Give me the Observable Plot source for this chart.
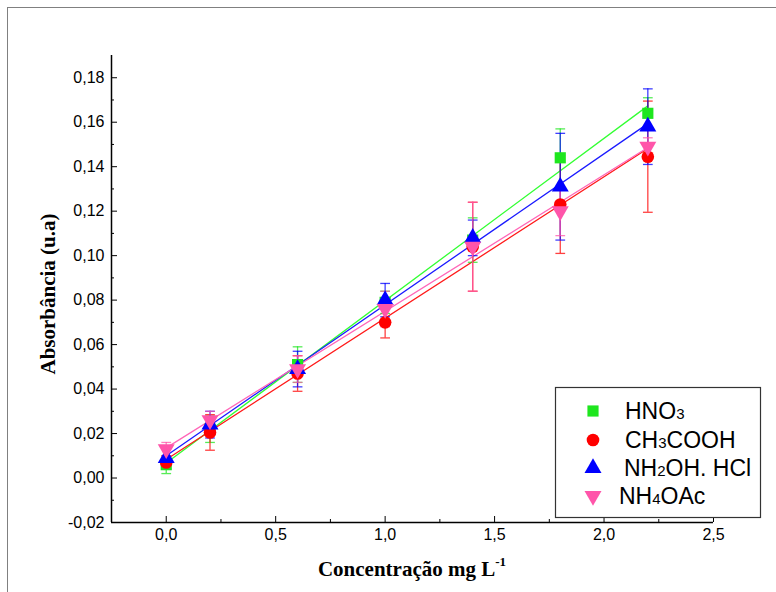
<!DOCTYPE html>
<html><head><meta charset="utf-8">
<script src="https://cdn.jsdelivr.net/npm/d3@7"></script>
<script src="https://cdn.jsdelivr.net/npm/@observablehq/plot@0.6"></script>
<style>
html,body{margin:0;padding:0;background:#fff;}
body{width:776px;height:592px;overflow:hidden;position:relative;font-family:"Liberation Sans",Arial,sans-serif;}
#frame{position:absolute;left:7px;top:7px;width:820px;height:700px;border:1px solid #808080;box-sizing:border-box;}
#chart{position:absolute;left:0;top:0;}
.title{position:absolute;font-family:"Liberation Serif","Times New Roman",serif;font-weight:bold;font-size:21px;color:#000;white-space:nowrap;}
#ytitle{left:48px;top:294px;transform:translate(-50%,-50%) rotate(-90deg);}
#xtitle{left:412px;top:569px;transform:translate(-50%,-50%);}
#xtitle sup{font-size:13px;vertical-align:top;position:relative;top:-3px;}
#legend{position:absolute;left:0;top:0;}
</style>
</head><body>
<div id="frame"></div>
<div id="chart"></div>
<div class="title" id="ytitle">Absorbância (u.a)</div>
<div class="title" id="xtitle">Concentração mg L<sup>-1</sup></div>
<svg id="legend" width="776" height="592"></svg>
<script>
// ---- data ----
const conc = [0, 0.2, 0.6, 1.0, 1.4, 1.8, 2.2];
const seriesNames = ["HNO3", "CH3COOH", "NH2OH. HCl", "NH4OAc"];
const hno3     = [0.006, 0.022, 0.051, 0.079, 0.107, 0.144, 0.164];
const hno3Err  = [0.004, 0.006, 0.008, 0.005, 0.010, 0.013, 0.007];
const ch3cooh    = [0.007, 0.0205, 0.047, 0.070, 0.104, 0.123, 0.1445];
const ch3coohErr = [0.003, 0.008, 0.008, 0.007, 0.020, 0.022, 0.025];
const nh2oh    = [0.009, 0.024, 0.049, 0.080, 0.108, 0.131, 0.158];
const nh2ohErr = [0.005, 0.006, 0.008, 0.0075, 0.008, 0.024, 0.017];
const nh4oac    = [0.013, 0.026, 0.049, 0.076, 0.104, 0.120, 0.149];
const nh4oacErr = [0.003, 0.004, 0.006, 0.008, 0.020, 0.011, 0.004];
const yTicks = [-0.02, 0, 0.02, 0.04, 0.06, 0.08, 0.10, 0.12, 0.14, 0.16, 0.18];
const xTicks = [0, 0.5, 1.0, 1.5, 2.0, 2.5];

const colors = {"HNO3": "#1ee61e", "CH3COOH": "#ff0000", "NH2OH. HCl": "#0000ff", "NH4OAc": "#ff55aa"};
const lineColors = {"HNO3": "#33ff33", "CH3COOH": "#ff1a1a", "NH2OH. HCl": "#1a1aff", "NH4OAc": "#ff66b8"};

const downTriangle = {
  draw(context, size) {
    const y = -Math.sqrt(size / (Math.sqrt(3) * 3));
    context.moveTo(0, -y * 2);
    context.lineTo(-Math.sqrt(3) * y, y);
    context.lineTo(Math.sqrt(3) * y, y);
    context.closePath();
  }
};
const capSymbol = {
  draw(context, size) {
    const w = Math.sqrt(size) / 2;
    context.moveTo(-w, 0);
    context.lineTo(w, 0);
  }
};
const symbols = {"HNO3": "square", "CH3COOH": "circle", "NH2OH. HCl": "triangle", "NH4OAc": downTriangle};

const valueSets = [hno3, ch3cooh, nh2oh, nh4oac];
const errSets = [hno3Err, ch3coohErr, nh2ohErr, nh4oacErr];
const data = [];
seriesNames.forEach((s, i) => conc.forEach((c, j) => data.push({series: s, x: c, y: valueSets[i][j], e: errSets[i][j]})));

const comma = (d, n) => d.toFixed(n).replace(".", ",");

const marks = [
  Plot.ruleX([-0.25], {stroke: "#000", strokeWidth: 1.5}),
  Plot.ruleY([-0.02], {stroke: "#000", strokeWidth: 1.5}),
  // inward major/minor ticks
  Plot.axisY({ticks: yTicks, tickSize: -6, tickFormat: () => "", stroke: "#000", label: null}),
  Plot.axisY({ticks: d3.range(-0.01, 0.19, 0.02), tickSize: -3, tickFormat: () => "", stroke: "#000", label: null}),
  Plot.axisY({ticks: yTicks, tickSize: 0, tickPadding: 7, tickFormat: d => comma(d, 2), fontSize: 16, label: null}),
  Plot.axisX({ticks: xTicks, tickSize: -6, tickFormat: () => "", stroke: "#000", label: null}),
  Plot.axisX({ticks: [-0.25, 0.25, 0.75, 1.25, 1.75, 2.25], tickSize: -3, tickFormat: () => "", stroke: "#000", label: null}),
  Plot.axisX({ticks: xTicks, tickSize: 0, tickPadding: 6, tickFormat: d => comma(d, 1), fontSize: 16, label: null})
];
seriesNames.forEach(s => {
  const d = data.filter(r => r.series === s);
  marks.push(Plot.linearRegressionY(d, {x: "x", y: "y", stroke: lineColors[s], strokeWidth: 1.3, ci: 0}));
});
seriesNames.forEach(s => {
  const d = data.filter(r => r.series === s);
  marks.push(Plot.ruleX(d, {x: "x", y1: r => r.y - r.e, y2: r => r.y + r.e, stroke: colors[s], strokeOpacity: 0.75, strokeWidth: 1.3}));
  marks.push(Plot.dot(d, {x: "x", y: r => r.y - r.e, symbol: capSymbol, r: 5.5, stroke: colors[s], strokeOpacity: 0.75, strokeWidth: 1.3}));
  marks.push(Plot.dot(d, {x: "x", y: r => r.y + r.e, symbol: capSymbol, r: 5.5, stroke: colors[s], strokeOpacity: 0.75, strokeWidth: 1.3}));
});
seriesNames.forEach(s => {
  const d = data.filter(r => r.series === s);
  marks.push(Plot.dot(d, {x: "x", y: "y", symbol: symbols[s], r: 6.3, fill: colors[s], stroke: "none"}));
});

const chart = Plot.plot({
  width: 776, height: 592,
  marginLeft: 111, marginRight: 63, marginTop: 55, marginBottom: 70,
  x: {domain: [-0.25, 2.5], label: null},
  y: {domain: [-0.02, 0.19], label: null},
  style: {fontFamily: "'Liberation Sans', Arial, sans-serif", fontSize: "16px", color: "#000", background: "transparent", overflow: "visible"},
  marks
});
document.getElementById("chart").appendChild(chart);

// ---- legend ----
const lg = d3.select("#legend");
lg.append("rect").attr("x", 555.5).attr("y", 387.5).attr("width", 205).attr("height", 130)
  .attr("fill", "#fff").attr("stroke", "#333").attr("stroke-width", 1.2);
const legendItems = [
  {s: "HNO3", parts: [["HNO", 0], ["3", 1]], cy: 411, tx: 625},
  {s: "CH3COOH", parts: [["CH", 0], ["3", 1], ["COOH", 0]], cy: 440, tx: 625},
  {s: "NH2OH. HCl", parts: [["NH", 0], ["2", 1], ["OH. HCl", 0]], cy: 468, tx: 624},
  {s: "NH4OAc", parts: [["NH", 0], ["4", 1], ["OAc", 0]], cy: 496, tx: 619}
];
legendItems.forEach(it => {
  const sym = symbols[it.s];
  const symObj = sym === "square" ? d3.symbolSquare : sym === "circle" ? d3.symbolCircle : sym === "triangle" ? d3.symbolTriangle : downTriangle;
  lg.append("path").attr("d", d3.symbol(symObj, Math.PI * 6.3 * 6.3)())
    .attr("transform", `translate(${593},${it.cy})`).attr("fill", colors[it.s]);
  const t = lg.append("text").attr("x", it.tx).attr("y", it.cy + 8)
    .attr("font-family", "'Liberation Sans', Arial, sans-serif").attr("font-size", 23).attr("fill", "#000");
  it.parts.forEach(([txt, sub]) => {
    const ts = t.append("tspan").text(txt);
    if (sub) ts.attr("font-size", 15);
  });
});
</script>
</body></html>
